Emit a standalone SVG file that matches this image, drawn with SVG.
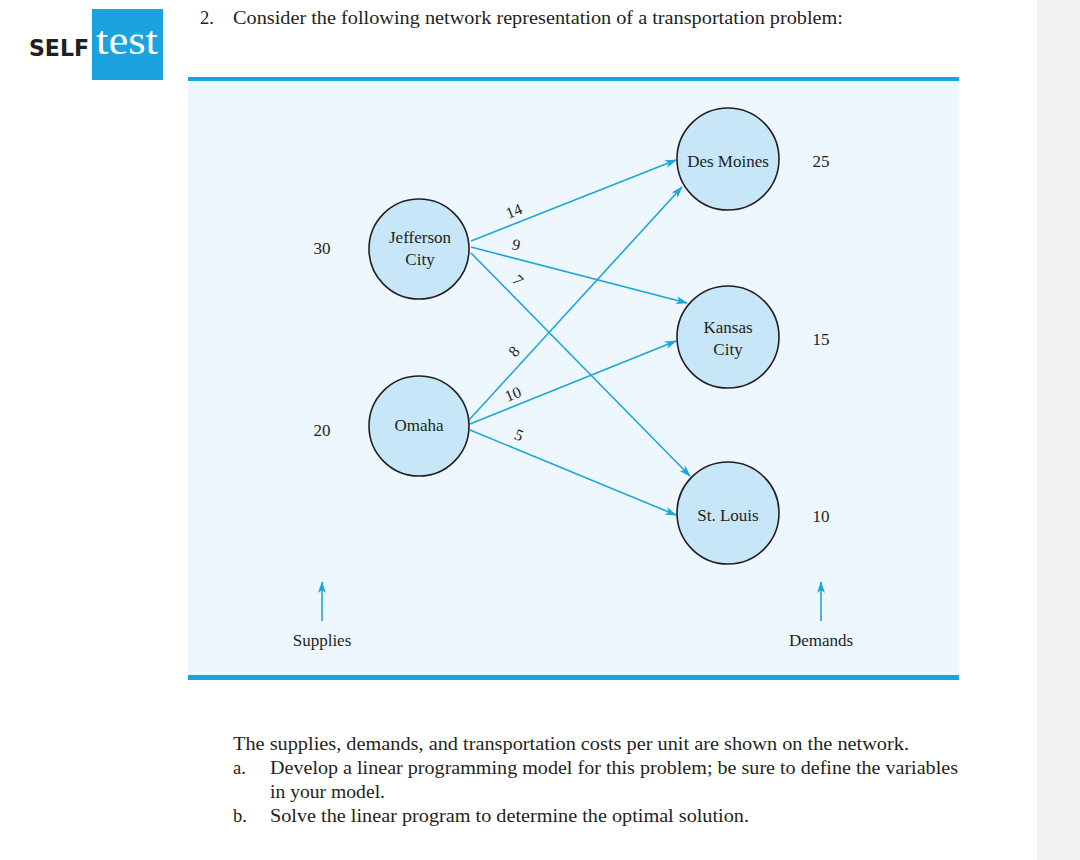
<svg xmlns="http://www.w3.org/2000/svg" width="1080" height="860" viewBox="0 0 1080 860">
<defs>
<style>
.t{font-family:"Liberation Serif","Times New Roman",serif;fill:#231f20}
.n{font-size:17px;text-anchor:middle}
.lbl{font-size:16px;text-anchor:middle}
.body{font-size:18.5px}
.node{fill:#c7e7f8;stroke:#231f20;stroke-width:1.6}
.edge{stroke:#1ea6d9;stroke-width:1.6;fill:none;marker-end:url(#ah)}
</style>
<marker id="ah" markerWidth="12" markerHeight="8" refX="11" refY="4" orient="auto" markerUnits="userSpaceOnUse">
<path d="M0,0 L12,4 L0,8 L3,4 Z" fill="#1ea6d9"/>
</marker>
</defs>
<rect width="1080" height="860" fill="#ffffff"/>
<rect x="1037" y="0" width="43" height="860" fill="#f1f2f4"/>
<g id="logo">
<rect x="92" y="9" width="71" height="71" fill="#1aa3de"/>
<text x="29" y="56" style="font-family:'DejaVu Sans','Liberation Sans',sans-serif;font-weight:bold;font-size:23px;fill:#231f20" textLength="60" lengthAdjust="spacingAndGlyphs">SELF</text>
<text x="96" y="54" style="font-family:'Liberation Serif',serif;font-size:39px;fill:#ffffff" textLength="62" lengthAdjust="spacingAndGlyphs">test</text>
</g>
<text class="t body" x="200" y="24">2.</text>
<text class="t body" x="233" y="24" textLength="610" lengthAdjust="spacingAndGlyphs">Consider the following network representation of a transportation problem:</text>
<g id="panel">
<rect x="188" y="80" width="771" height="598" fill="#eef7fd"/>
<rect x="188" y="77" width="771" height="4" fill="#1aa3de"/>
<rect x="188" y="675" width="771" height="5" fill="#1aa3de"/>
</g>
<g id="connectors">
<line class="edge" x1="471" y1="241" x2="676" y2="160"/>
<line class="edge" x1="471" y1="247" x2="687" y2="303"/>
<line class="edge" x1="471" y1="253" x2="690" y2="476"/>
<line class="edge" x1="469" y1="420" x2="682" y2="187"/>
<line class="edge" x1="470" y1="424" x2="676" y2="341"/>
<line class="edge" x1="470" y1="430" x2="676" y2="515"/>
<line class="edge" x1="322" y1="621" x2="322" y2="582"/>
<line class="edge" x1="821" y1="621" x2="821" y2="582"/>
</g>
<g id="edge-labels" class="t lbl">
<text transform="translate(516,216) rotate(-22)">14</text>
<text transform="translate(515,250) rotate(14)">9</text>
<text transform="translate(514,284) rotate(45)">7</text>
<text transform="translate(518,355) rotate(-47)">8</text>
<text transform="translate(515,399) rotate(-22)">10</text>
<text transform="translate(517,440) rotate(22)">5</text>
</g>
<g id="jefferson">
<circle class="node" cx="419" cy="249" r="50"/>
<text class="t n" x="420" y="243">Jefferson</text>
<text class="t n" x="420" y="265">City</text>
</g>
<g id="omaha">
<circle class="node" cx="419" cy="426" r="50"/>
<text class="t n" x="419" y="431">Omaha</text>
</g>
<g id="desmoines">
<circle class="node" cx="728" cy="159" r="51"/>
<text class="t n" x="728" y="167">Des Moines</text>
</g>
<g id="kansas">
<circle class="node" cx="728" cy="337" r="51"/>
<text class="t n" x="728" y="333">Kansas</text>
<text class="t n" x="728" y="355">City</text>
</g>
<g id="stlouis">
<circle class="node" cx="728" cy="513" r="51"/>
<text class="t n" x="728" y="521">St. Louis</text>
</g>
<g id="values" class="t n">
<text x="322" y="254">30</text>
<text x="322" y="436">20</text>
<text x="821" y="167">25</text>
<text x="821" y="345">15</text>
<text x="821" y="522">10</text>
<text x="322" y="646">Supplies</text>
<text x="821" y="646">Demands</text>
</g>
<g id="question" class="t body">
<text x="233" y="750" textLength="676" lengthAdjust="spacingAndGlyphs">The supplies, demands, and transportation costs per unit are shown on the network.</text>
<text x="233" y="774">a.</text>
<text x="270" y="774" textLength="688" lengthAdjust="spacingAndGlyphs">Develop a linear programming model for this problem; be sure to define the variables</text>
<text x="270" y="798" textLength="115" lengthAdjust="spacingAndGlyphs">in your model.</text>
<text x="233" y="822">b.</text>
<text x="270" y="822" textLength="479" lengthAdjust="spacingAndGlyphs">Solve the linear program to determine the optimal solution.</text>
</g>
</svg>
